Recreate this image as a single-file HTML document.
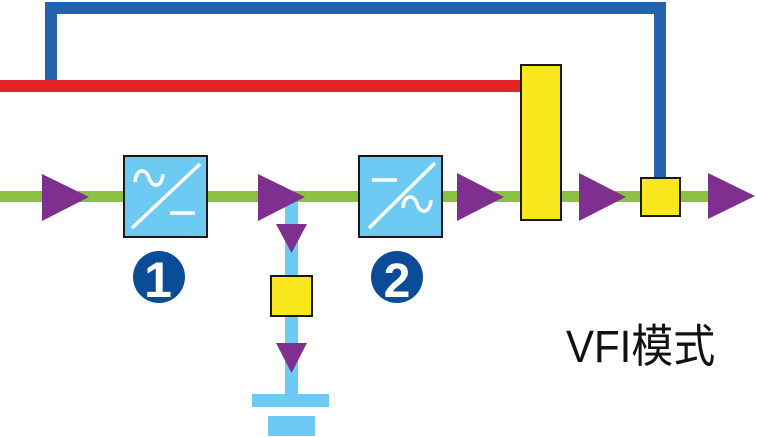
<!DOCTYPE html>
<html><head><meta charset="utf-8"><style>
html,body{margin:0;padding:0;background:#fff;width:757px;height:437px;overflow:hidden}
svg{display:block}
</style></head><body>
<svg width="757" height="437" viewBox="0 0 757 437" xmlns="http://www.w3.org/2000/svg">
<!-- blue bypass line -->
<path d="M51 86 V8 H660 V178" fill="none" stroke="#2462ad" stroke-width="12"/>
<!-- red line -->
<rect x="0" y="80" width="522" height="12" fill="#e42527"/>
<!-- green main line -->
<rect x="0" y="191" width="712" height="11" fill="#8bc043"/>
<!-- light blue branch -->
<rect x="285" y="200" width="13" height="196" fill="#6dcbf3"/>
<rect x="252" y="394" width="77" height="13" fill="#6dcbf3"/>
<rect x="268" y="416" width="47" height="20" fill="#6dcbf3"/>
<!-- triangles right -->
<g fill="#7f2f8d">
<polygon points="42,174 89,197 42,221"/>
<polygon points="258,174 305,197 258,221"/>
<polygon points="457,173 504,197 457,221"/>
<polygon points="579,173 626,197 579,221"/>
<polygon points="708,173 755,196 708,219"/>
<!-- down triangles -->
<polygon points="276,224 307,224 291.5,253"/>
<polygon points="276,343 307,343 291.5,373"/>
</g>
<!-- converter boxes -->
<rect x="124" y="156" width="83" height="81" fill="#6dcbf3" stroke="#1a1a1a" stroke-width="2"/>
<line x1="132" y1="228" x2="200" y2="164" stroke="#fff" stroke-width="3.5"/>
<path d="M135 182 C136 168,146 168,149 178 C152 188,162 188,163 174" fill="none" stroke="#fff" stroke-width="3.5"/>
<line x1="170" y1="213" x2="195" y2="213" stroke="#fff" stroke-width="3.5"/>
<rect x="359" y="156" width="83" height="81" fill="#6dcbf3" stroke="#1a1a1a" stroke-width="2"/>
<line x1="369" y1="228" x2="435" y2="163" stroke="#fff" stroke-width="3.5"/>
<line x1="372" y1="180" x2="397" y2="180" stroke="#fff" stroke-width="3.5"/>
<path d="M403 208 C404 194,414 194,417 204 C420 214,430 214,431 200" fill="none" stroke="#fff" stroke-width="3.5"/>
<!-- yellow switches -->
<rect x="521" y="65" width="40" height="155" fill="#f8e71c" stroke="#1a1a1a" stroke-width="2"/>
<rect x="641" y="178" width="39" height="38" fill="#f8e71c" stroke="#1a1a1a" stroke-width="2"/>
<rect x="271" y="276" width="41" height="40" fill="#f8e71c" stroke="#1a1a1a" stroke-width="2"/>
<!-- numbered circles -->
<circle cx="159" cy="277" r="26" fill="#0a4d96"/>
<text x="158" y="297" font-family="Liberation Sans, sans-serif" font-weight="bold" font-size="50" fill="#fff" text-anchor="middle">1</text>
<circle cx="397" cy="277" r="26" fill="#0a4d96"/>
<text x="397" y="297" font-family="Liberation Sans, sans-serif" font-weight="bold" font-size="48" fill="#fff" text-anchor="middle">2</text>
<!-- label -->
<text x="566" y="362" font-family="Liberation Sans, 'Noto Sans CJK SC', sans-serif" font-size="42" fill="#111" transform="translate(566 362) scale(1 1.08) translate(-566 -362)">VFI模式</text>
</svg>
</body></html>
